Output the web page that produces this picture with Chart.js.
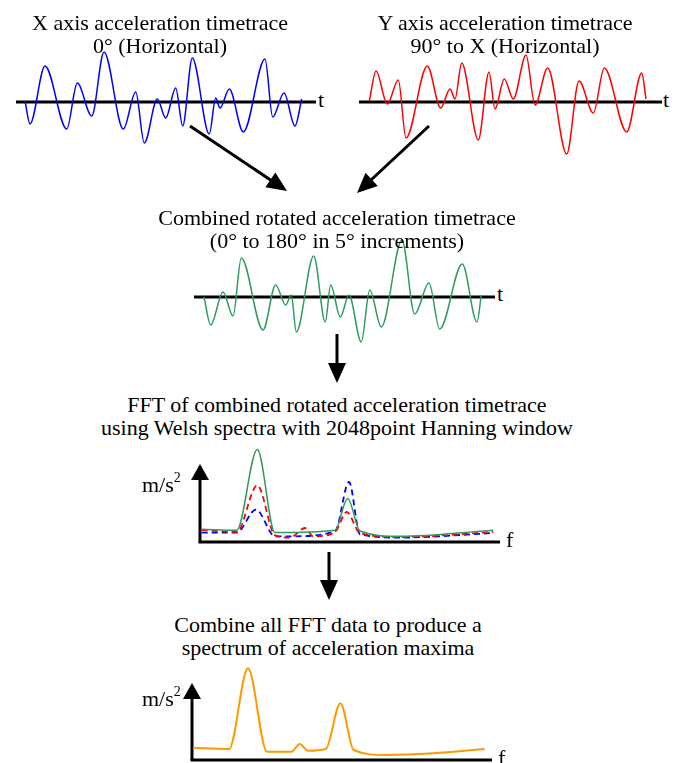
<!DOCTYPE html>
<html>
<head>
<meta charset="utf-8">
<script src="https://cdn.jsdelivr.net/npm/chart.js@4.4.0/dist/chart.umd.min.js"></script>
<style>
  html, body { margin: 0; padding: 0; background: #fff; }
  #page { position: relative; width: 679px; height: 763px; overflow: hidden;
          font-family: "Liberation Serif", "Times New Roman", serif; color: #000; }
  .title { position: absolute; width: 560px; font-size: 22px; line-height: 23px;
           text-align: center; white-space: nowrap; }
  .lbl { position: absolute; font-size: 22px; line-height: 22px; white-space: nowrap; }
  .lbl sup { font-size: 14px; position: relative; top: -2px; }
  canvas { position: absolute; }
  svg { position: absolute; left: 0; top: 0; }
</style>
</head>
<body>
<div id="page">
  <canvas id="xTrace" width="300" height="120" style="left:16px;top:40px"></canvas>
  <canvas id="yTrace" width="303" height="120" style="left:359px;top:40px"></canvas>
  <canvas id="rotTrace" width="301" height="115" style="left:194px;top:235px"></canvas>
  <canvas id="fftChart" width="330" height="110" style="left:180px;top:440px"></canvas>
  <canvas id="maxChart" width="330" height="103" style="left:172px;top:660px"></canvas>

  <div class="title" style="left:-120px;top:11px">X axis acceleration timetrace<br>0° (Horizontal)</div>
  <div class="title" style="left:225px;top:11px">Y axis acceleration timetrace<br>90° to X (Horizontal)</div>
  <div class="title" style="left:57px;top:206px">Combined rotated acceleration timetrace<br>(0° to 180° in 5° increments)</div>
  <div class="title" style="left:57px;top:393px">FFT of combined rotated acceleration timetrace<br>using Welsh spectra with 2048point Hanning window</div>
  <div class="title" style="left:48px;top:613px">Combine all FFT data to produce a<br>spectrum of acceleration maxima</div>

  <div class="lbl" style="left:318px;top:89px">t</div>
  <div class="lbl" style="left:663px;top:89px">t</div>
  <div class="lbl" style="left:497px;top:283px">t</div>
  <div class="lbl" style="left:506px;top:529px">f</div>
  <div class="lbl" style="left:498px;top:747px">f</div>
  <div class="lbl" style="left:142px;top:469px">m/s<sup>2</sup></div>
  <div class="lbl" style="left:142px;top:683px">m/s<sup>2</sup></div>

  <svg id="flow" width="679" height="763"></svg>
</div>

<script>
// X axis timetrace (blue) - time samples / acceleration
const xTraceT = [9, 14, 29, 50.7, 61.3, 75.7, 88, 107.3, 119.7, 128.3, 141.3, 149.7, 159.7, 166.7, 176.3, 193.3, 199.7, 204, 213.3, 227.3, 249, 256.7, 268, 279, 285.7];
const xTraceA = [1, -22, 36, -27, 19, -14, 50, -27, 10, -41, 3, -16, 14, -24, 44, -32, 4, -6, 13, -30, 43, -15, 9, -24, 3];

// Y axis timetrace (red)
const yTraceT = [10.3, 17, 28.3, 39.3, 47, 68.3, 81.7, 91, 96, 102.7, 119.3, 130, 136, 145.3, 154.3, 167, 176, 188.7, 207.7, 220, 234.3, 245.3, 267.7, 282.7, 287];
const yTraceA = [1, 31, -2, 22, -36, 36, -6, 13, 3, 39, -38, 30, -7, 23, 3, 47, -3, 34, -52, 21, -11, 34, -30, 29, 3];

// combined rotated timetrace (green)
const rotT = [10, 16.7, 29, 39, 47.3, 69, 81.7, 91.7, 97.3, 102.3, 119.7, 131.3, 136.7, 146.3, 155, 167.3, 175.7, 187.3, 208, 220.7, 235, 245.7, 268.3, 283, 287.3];
const rotA = [0, -28, 5, -19, 39, -33, 12, -8, 2, -35, 41, -25, 12, -20, 2, -45, 7, -30, 57, -17, 14, -32, 33, -25, 2];

// FFT spectra (frequency / m/s2)
const fftFreqGreen = [1.7, 36.7, 57.3, 75, 135, 147.7, 160, 200, 293.3];
const fftGreen = [12.7, 11.7, 92.4, 9.4, 11.7, 43.4, 11, 5.7, 11.7];
const fftFreqRed = [1.7, 36.7, 57.3, 75, 90, 105, 113.3, 135, 146.7, 160, 200, 293.3];
const fftRed = [12, 10, 56.7, 6.7, 4.4, 14, 5.7, 10, 30, 9, 5, 10];
const fftFreqBlue = [1.7, 36.7, 56, 75, 90, 135, 149, 160, 200, 293.3];
const fftBlue = [9.4, 9.4, 32.4, 5.7, 5.7, 10.7, 60, 7.7, 4.4, 9];

// spectrum of acceleration maxima (orange)
const maxFreq = [1, 37, 56, 75, 99.4, 107.7, 116, 133.7, 148.4, 161.7, 194.4, 241, 292.7];
const maxAmp = [12.3, 11, 91.7, 8.3, 8.3, 16, 9.3, 11, 56.7, 10, 5, 6.7, 11];

const pts = (xs, ys) => xs.map((v, i) => ({ x: v, y: ys[i] }));

// black axis lines (and arrowhead on the vertical axis for spectra)
const axisLines = {
    id: "axisLines",
    beforeDatasetsDraw(chart, args, opts) {
        const { ctx, chartArea: a, scales: { y } } = chart;
        const y0 = y.getPixelForValue(0);
        ctx.save();
        ctx.strokeStyle = "#000";
        ctx.fillStyle = "#000";
        ctx.lineWidth = 3;
        ctx.beginPath();
        ctx.moveTo(a.left - (opts.arrowTop ? 1.5 : 0), y0);
        ctx.lineTo(a.right, y0);
        ctx.stroke();
        if (opts.arrowTop) {
            const tip = y.getPixelForValue(opts.arrowTop);
            ctx.beginPath();
            ctx.moveTo(a.left, y0);
            ctx.lineTo(a.left, tip + 12);
            ctx.stroke();
            ctx.beginPath();
            ctx.moveTo(a.left, tip);
            ctx.lineTo(a.left - 9, tip + 16);
            ctx.lineTo(a.left + 9, tip + 16);
            ctx.closePath();
            ctx.fill();
        }
        ctx.restore();
    }
};

function makeChart(id, datasets, xMax, yMin, yMax, padding, axisOpts) {
    return new Chart(document.getElementById(id), {
        type: "line",
        data: { datasets: datasets },
        options: {
            responsive: false,
            animation: false,
            events: [],
            devicePixelRatio: 1,
            layout: { padding: padding },
            plugins: {
                legend: { display: false },
                tooltip: { enabled: false },
                axisLines: axisOpts
            },
            scales: {
                x: { type: "linear", display: false, min: 0, max: xMax },
                y: { display: false, min: yMin, max: yMax }
            },
            elements: {
                point: { radius: 0 },
                line: { cubicInterpolationMode: "monotone" }
            }
        },
        plugins: [axisLines]
    });
}

function trace(data, color, width, dash) {
    return {
        data: data,
        borderColor: color,
        borderWidth: width,
        borderDash: dash || [],
        fill: false,
        clip: false
    };
}

makeChart("xTrace", [trace(pts(xTraceT, xTraceA), "#0000ff", 1.5)], 300, -58, 62, 0, {});
makeChart("yTrace", [trace(pts(yTraceT, yTraceA), "#ff0000", 1.5)], 303, -58, 62, 0, {});
makeChart("rotTrace", [trace(pts(rotT, rotA), "#2e9b5e", 1.5)], 301, -53, 62, 0, {});

makeChart("fftChart", [
    trace(pts(fftFreqGreen, fftGreen), "#2e9b5e", 1.5),
    trace(pts(fftFreqRed, fftRed), "#ff0000", 1.8, [6, 4]),
    trace(pts(fftFreqBlue, fftBlue), "#0000ff", 1.8, [6, 4])
], 300, 0, 100, { left: 20, right: 10, top: 2, bottom: 8 }, { arrowTop: 78 });

makeChart("maxChart", [trace(pts(maxFreq, maxAmp), "#ff9900", 2)],
    300, 0, 100, { left: 20, right: 10, top: 0, bottom: 3 }, { arrowTop: 77 });

// flow arrows between the stages
const svg = document.getElementById("flow");
function arrow(x1, y1, x2, y2) {
    const ns = "http://www.w3.org/2000/svg";
    const dx = x2 - x1, dy = y2 - y1;
    const len = Math.hypot(dx, dy);
    const ux = dx / len, uy = dy / len;
    const headLen = 20, headW = 9;
    const bx = x2 - ux * headLen, by = y2 - uy * headLen;
    const line = document.createElementNS(ns, "line");
    line.setAttribute("x1", x1);
    line.setAttribute("y1", y1);
    line.setAttribute("x2", bx + ux * 2);
    line.setAttribute("y2", by + uy * 2);
    line.setAttribute("stroke", "#000");
    line.setAttribute("stroke-width", 3);
    svg.appendChild(line);
    const head = document.createElementNS(ns, "polygon");
    head.setAttribute("points",
        x2 + "," + y2 + " " +
        (bx - uy * headW) + "," + (by + ux * headW) + " " +
        (bx + uy * headW) + "," + (by - ux * headW));
    head.setAttribute("fill", "#000");
    svg.appendChild(head);
}
arrow(190, 126, 287, 191);
arrow(429, 126, 357, 193);
arrow(337, 334, 337, 383);
arrow(329, 552, 329, 600);
</script>
</body>
</html>
